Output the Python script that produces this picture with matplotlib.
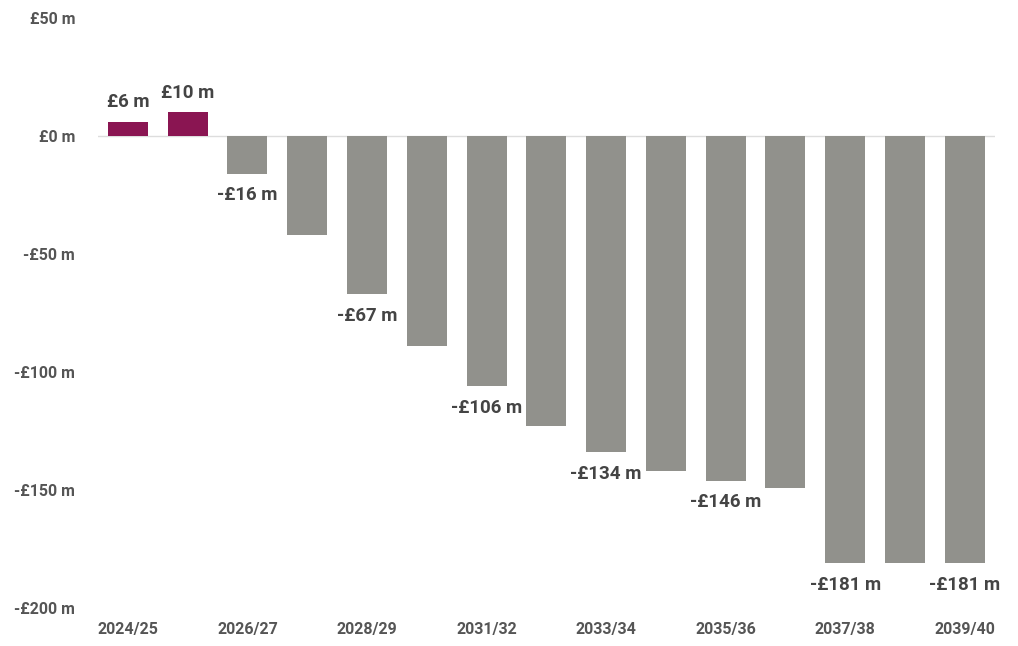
import matplotlib
matplotlib.use('Agg')
import matplotlib.pyplot as plt

# data
years = ['2024/25', '2025/26', '2026/27', '2027/28', '2028/29', '2029/30',
         '2031/32', '2032/33', '2033/34', '2034/35', '2035/36', '2036/37',
         '2037/38', '2038/39', '2039/40']
values = [6, 10, -16, -42, -67, -89, -106, -123, -134, -142, -146, -149,
          -181, -181, -181]
labelled = [0, 1, 2, 4, 6, 8, 10, 12, 14]
y_ticks = [50, 0, -50, -100, -150, -200]

plt.rcParams['font.family'] = ['Roboto', 'DejaVu Sans']

fig = plt.figure(figsize=(10.18, 6.46), dpi=100)
ax = fig.add_axes([0.0963, 0.0588, 0.8807, 0.9132])

x = list(range(len(years)))
colors = ['#8a1552' if v > 0 else '#91918c' for v in values]
ax.bar(x, values, width=0.67, color=colors, zorder=2)

ax.axhline(0, color='#dddddd', lw=1, zorder=1)

for i in labelled:
    v = values[i]
    txt = ('£%d m' % v) if v >= 0 else ('-£%d m' % abs(v))
    if v >= 0:
        ax.annotate(txt, (i, v), xytext=(0, 7.5), textcoords='offset points',
                    ha='center', va='bottom', fontsize=13.5, fontweight='bold',
                    color='#444444')
    else:
        ax.annotate(txt, (i, v), xytext=(0, -9), textcoords='offset points',
                    ha='center', va='top', fontsize=13.5, fontweight='bold',
                    color='#444444')

ax.set_xlim(-0.5, len(years) - 0.5)
ax.set_ylim(-200, 50)
ax.set_yticks(y_ticks)
ax.set_yticklabels([('£%d m' % t) if t >= 0 else ('-£%d m' % abs(t)) for t in y_ticks])
ax.set_xticks(x[::2])
ax.set_xticklabels(years[::2])
ax.tick_params(axis='both', length=0, labelsize=11.5, labelcolor='#555555')
ax.tick_params(axis='y', pad=16.5)
ax.tick_params(axis='x', pad=10)
for lbl in ax.get_xticklabels() + ax.get_yticklabels():
    lbl.set_fontweight('bold')
for s in ax.spines.values():
    s.set_visible(False)

fig.savefig('out.png', dpi=100)
